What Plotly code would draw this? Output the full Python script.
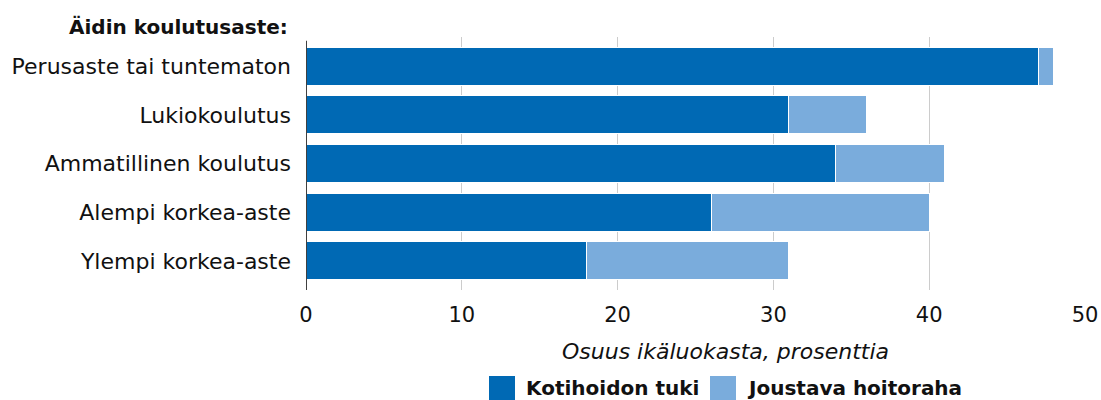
import plotly.graph_objects as go

categories = ["Perusaste tai tuntematon", "Lukiokoulutus", "Ammatillinen koulutus",
              "Alempi korkea-aste", "Ylempi korkea-aste"]
kotihoidon_tuki = [47, 31, 34, 26, 18]
joustava_hoitoraha = [1, 5, 7, 14, 13]
series_names = ["Kotihoidon tuki", "Joustava hoitoraha"]
x_ticks = [0, 10, 20, 30, 40, 50]

DARK = "#0069b4"
LIGHT = "#7aacdc"
FONT = "DejaVu Sans, Arial, sans-serif"
TXT = "#111111"

fig = go.Figure()
fig.add_trace(go.Bar(y=categories, x=kotihoidon_tuki, orientation="h", name=series_names[0],
                     marker=dict(color=DARK, line=dict(color="white", width=1)), showlegend=False))
fig.add_trace(go.Bar(y=categories, x=joustava_hoitoraha, orientation="h", name=series_names[1],
                     marker=dict(color=LIGHT, line=dict(color="white", width=1)), showlegend=False))

W, H = 1101, 400
L, R, T, B = 306, 16, 37, 110

fig.update_layout(
    width=W, height=H, barmode="stack", bargap=0.22,
    margin=dict(l=L, r=R, t=T, b=B, pad=0, autoexpand=False),
    paper_bgcolor="white", plot_bgcolor="white",
    font=dict(family=FONT, size=20, color=TXT),
    xaxis=dict(range=[0, 50], tickvals=x_ticks, showgrid=True, gridcolor="#cccccc", gridwidth=1,
               zeroline=False, showline=False, ticks="", tickfont=dict(size=21, color=TXT),
               ticklabelstandoff=10, automargin=False),
    yaxis=dict(categoryorder="array", categoryarray=categories, autorange=False,
               range=[4.6, -0.6], showgrid=False, zeroline=False, showline=False, ticks="",
               tickfont=dict(size=22, color=TXT), ticklabelstandoff=14, automargin=False),
)

# zero line
fig.add_shape(type="line", xref="x", yref="paper", x0=0, x1=0, y0=0.0, y1=0.985,
              line=dict(color="black", width=1.5))

# y-axis heading
fig.add_annotation(text="<b>Äidin koulutusaste:</b>", xref="paper", yref="paper",
                   x=-16 / (W - L - R), y=1.0, xanchor="right", yanchor="middle",
                   yshift=10, showarrow=False, font=dict(size=20, color=TXT, family=FONT))

# x-axis title
fig.add_annotation(text="<i>Osuus ikäluokasta, prosenttia</i>", xref="x", yref="paper",
                   x=26.9, y=0, yshift=-61, xanchor="center", yanchor="middle",
                   showarrow=False, font=dict(size=22, color=TXT, family=FONT))

# legend (drawn)
pw = W - L - R
ph = H - T - B
def px_x(p):
    return (p - L) / pw
def px_y(p):
    return (H - B - p) / ph

legend_items = [(series_names[0], DARK, 489), (series_names[1], LIGHT, 710)]
for name, col, x0 in legend_items:
    fig.add_shape(type="rect", xref="paper", yref="paper",
                  x0=px_x(x0), x1=px_x(x0 + 26), y0=px_y(376), y1=px_y(402),
                  fillcolor=col, line=dict(width=0))
    fig.add_annotation(text="<b>" + name + "</b>", xref="paper", yref="paper",
                       x=px_x(x0 + 35), y=px_y(388), xanchor="left", yanchor="middle",
                       showarrow=False, font=dict(size=20, color=TXT, family=FONT))

fig.write_html("out.html", config={"displayModeBar": False},
               post_script="document.body.style.margin='0';")
